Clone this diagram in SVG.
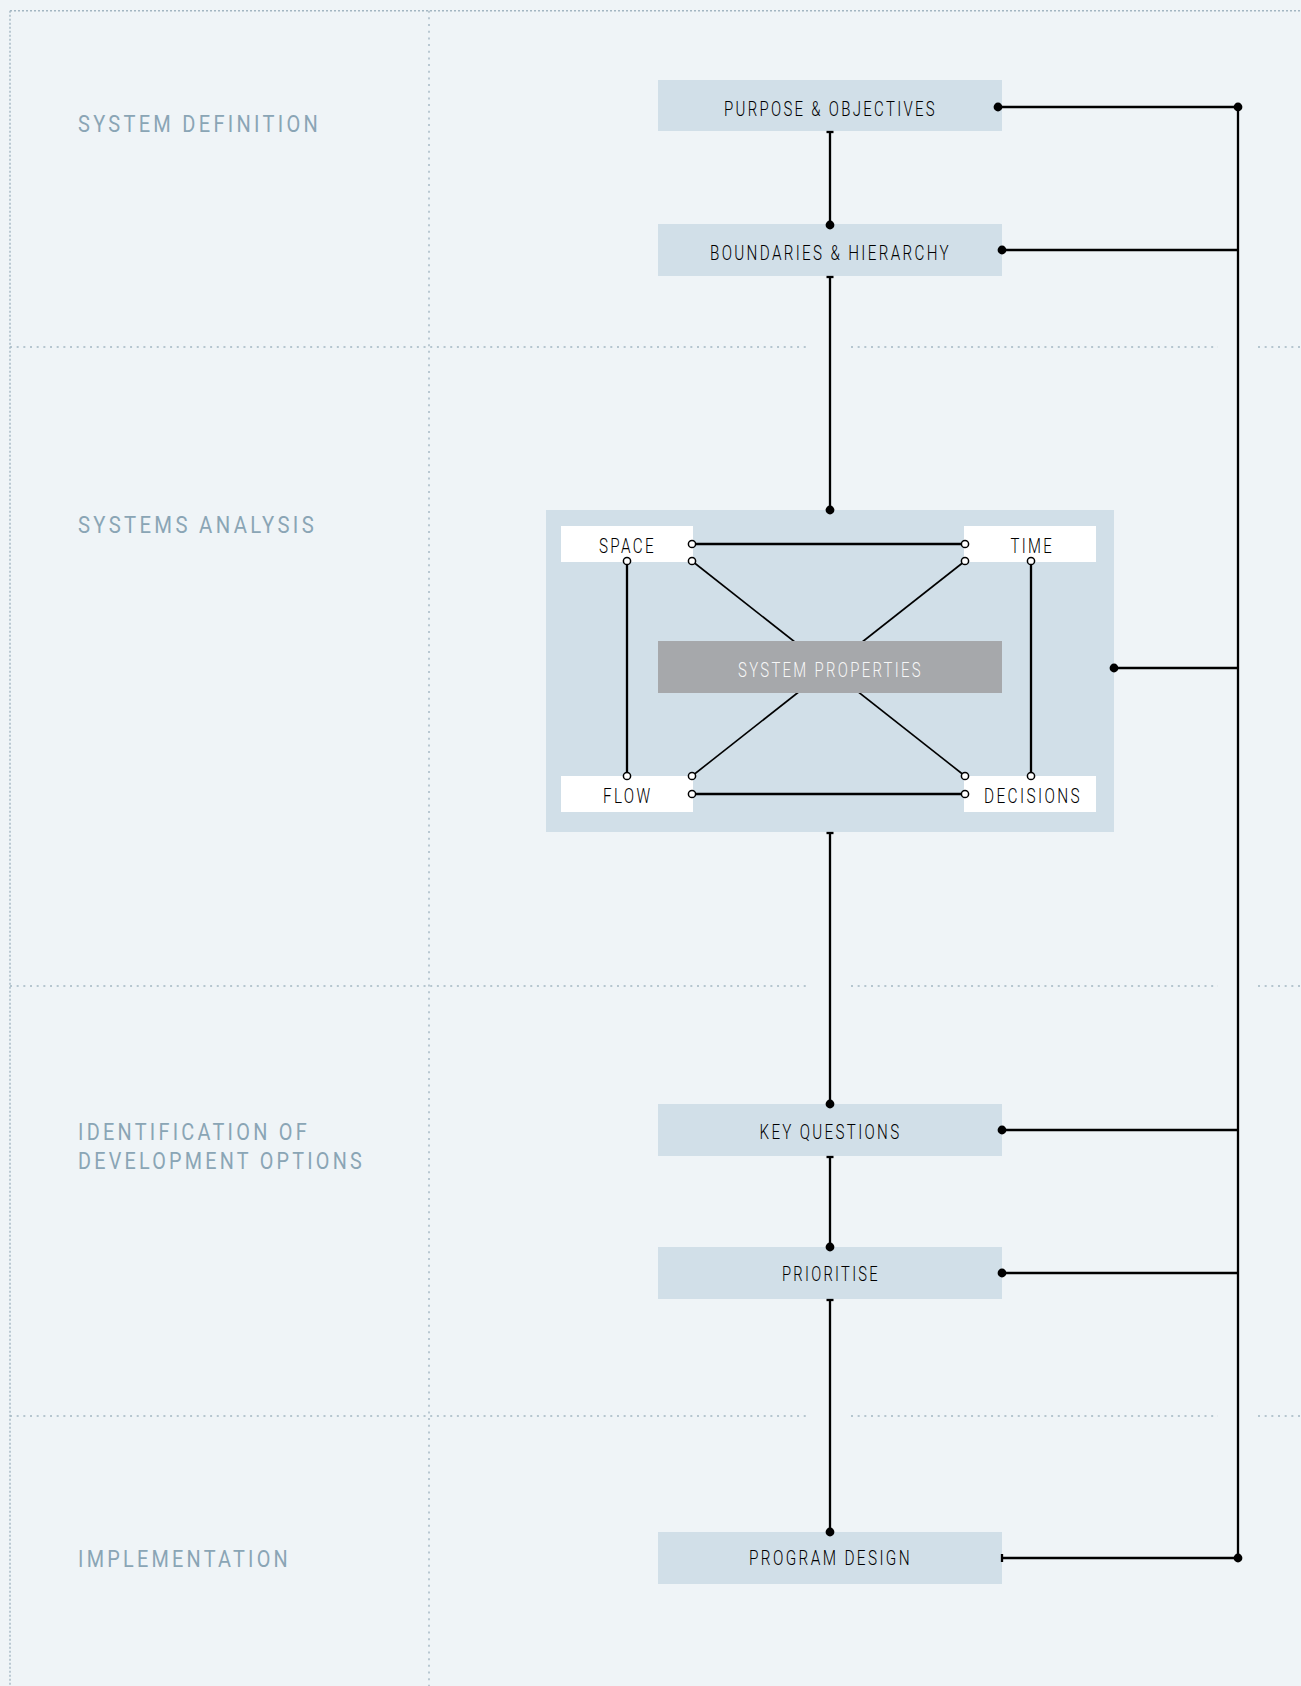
<svg xmlns="http://www.w3.org/2000/svg" width="1301" height="1686" viewBox="0 0 1301 1686">
<style>
.grid{stroke:#a3b6c2;stroke-width:1.4;fill:none;stroke-dasharray:2 4.67}
.gridd{stroke:#a3b6c2;stroke-width:1.4;fill:none;stroke-dasharray:2 2}
.sec{font-family:Roboto,"Liberation Sans",sans-serif;font-weight:400;font-size:24.5px;letter-spacing:4px;fill:#8aa5b5}
.box{fill:#d1dfe8}
.wbox{fill:#ffffff}
.gbox{fill:#a6a8ab}
.lbl{font-family:Roboto,"Liberation Sans",sans-serif;font-weight:300;font-size:19.5px;letter-spacing:3px;fill:#000}
.lblw{font-family:Roboto,"Liberation Sans",sans-serif;font-weight:300;font-size:19.5px;letter-spacing:3px;fill:#f7f7f7}
.ln{stroke:#000;stroke-width:2.3;fill:none}
.lnt{stroke:#000;stroke-width:1.6;fill:none}
.dot{fill:#000}
.oc{fill:#fff;stroke:#000;stroke-width:1.5}
</style>
<rect width="1301" height="1686" fill="#eff4f7"/>
<g id="grid">
<line class="gridd" x1="10" y1="10.7" x2="1301" y2="10.7"/>
<line class="gridd" x1="10" y1="10.7" x2="10" y2="1686"/>
<line class="grid" x1="429" y1="10.7" x2="429" y2="1686"/>
<path class="grid" d="M10 347H807M851 347H1218M1258 347H1301"/>
<path class="grid" d="M10 986H807M851 986H1218M1258 986H1301"/>
<path class="grid" d="M10 1416H807M851 1416H1218M1258 1416H1301"/>
</g>
<g id="sections">
<text class="sec" x="78" y="131.7" textLength="243" lengthAdjust="spacingAndGlyphs">SYSTEM DEFINITION</text>
<text class="sec" x="78" y="533.3" textLength="239" lengthAdjust="spacingAndGlyphs">SYSTEMS ANALYSIS</text>
<text class="sec" x="78" y="1140" textLength="232" lengthAdjust="spacingAndGlyphs">IDENTIFICATION OF</text>
<text class="sec" x="78" y="1169" textLength="287" lengthAdjust="spacingAndGlyphs">DEVELOPMENT OPTIONS</text>
<text class="sec" x="78" y="1566.7" textLength="213" lengthAdjust="spacingAndGlyphs">IMPLEMENTATION</text>
</g>
<g id="node-purpose">
<rect class="box" x="658" y="80" width="344" height="51"/>
<text class="lbl" x="724" y="115.5" textLength="213" lengthAdjust="spacingAndGlyphs">PURPOSE &amp; OBJECTIVES</text>
</g>
<g id="node-boundaries">
<rect class="box" x="658" y="224" width="344" height="52"/>
<text class="lbl" x="710" y="259.5" textLength="241" lengthAdjust="spacingAndGlyphs">BOUNDARIES &amp; HIERARCHY</text>
</g>
<g id="node-analysis">
<rect class="box" x="546" y="510" width="568" height="322"/>
</g>
<g id="node-space">
<rect class="wbox" x="561" y="526" width="132" height="36"/>
<text class="lbl" x="599" y="552.5" textLength="57" lengthAdjust="spacingAndGlyphs">SPACE</text>
</g>
<g id="node-time">
<rect class="wbox" x="964" y="526" width="132" height="36"/>
<text class="lbl" x="1010.5" y="552.5" textLength="43.5" lengthAdjust="spacingAndGlyphs">TIME</text>
</g>
<g id="node-flow">
<rect class="wbox" x="561" y="776" width="132" height="36"/>
<text class="lbl" x="603" y="802.7" textLength="49.5" lengthAdjust="spacingAndGlyphs">FLOW</text>
</g>
<g id="node-decisions">
<rect class="wbox" x="964" y="776" width="132" height="36"/>
<text class="lbl" x="984" y="802.7" textLength="98" lengthAdjust="spacingAndGlyphs">DECISIONS</text>
</g>
<g id="node-key">
<rect class="box" x="658" y="1104" width="344" height="52"/>
<text class="lbl" x="759.5" y="1138.5" textLength="142" lengthAdjust="spacingAndGlyphs">KEY QUESTIONS</text>
</g>
<g id="node-prioritise">
<rect class="box" x="658" y="1247" width="344" height="52"/>
<text class="lbl" x="782" y="1281" textLength="98" lengthAdjust="spacingAndGlyphs">PRIORITISE</text>
</g>
<g id="node-program">
<rect class="box" x="658" y="1532" width="344" height="52"/>
<text class="lbl" x="749" y="1565" textLength="163" lengthAdjust="spacingAndGlyphs">PROGRAM DESIGN</text>
</g>
<g id="connectors">
<line class="lnt" x1="692" y1="561" x2="965" y2="776"/>
<line class="lnt" x1="965" y1="561" x2="692" y2="776"/>
<line class="ln" x1="692" y1="544" x2="965" y2="544"/>
<line class="ln" x1="692" y1="794" x2="965" y2="794"/>
<line class="ln" x1="627" y1="561" x2="627" y2="776"/>
<line class="ln" x1="1031" y1="561" x2="1031" y2="776"/>
<line class="ln" x1="830" y1="131" x2="830" y2="225"/>
<line class="ln" x1="826.5" y1="132" x2="833.5" y2="132"/>
<circle class="dot" cx="830" cy="225" r="4.4"/>
<line class="ln" x1="830" y1="276" x2="830" y2="510"/>
<line class="ln" x1="826.5" y1="277" x2="833.5" y2="277"/>
<circle class="dot" cx="830" cy="510" r="4.4"/>
<line class="ln" x1="830" y1="832" x2="830" y2="1104"/>
<line class="ln" x1="826.5" y1="833" x2="833.5" y2="833"/>
<circle class="dot" cx="830" cy="1104" r="4.4"/>
<line class="ln" x1="830" y1="1156" x2="830" y2="1247"/>
<line class="ln" x1="826.5" y1="1157" x2="833.5" y2="1157"/>
<circle class="dot" cx="830" cy="1247" r="4.4"/>
<line class="ln" x1="830" y1="1299" x2="830" y2="1532"/>
<line class="ln" x1="826.5" y1="1300" x2="833.5" y2="1300"/>
<circle class="dot" cx="830" cy="1532" r="4.4"/>
<line class="ln" x1="1238" y1="107" x2="1238" y2="1558"/>
<line class="ln" x1="998" y1="107" x2="1238" y2="107"/>
<circle class="dot" cx="998" cy="107" r="4.4"/>
<circle class="dot" cx="1238" cy="107" r="4.4"/>
<line class="ln" x1="1002" y1="250" x2="1238" y2="250"/>
<circle class="dot" cx="1002" cy="250" r="4.4"/>
<line class="ln" x1="1114" y1="668" x2="1238" y2="668"/>
<circle class="dot" cx="1114" cy="668" r="4.4"/>
<line class="ln" x1="1002" y1="1130" x2="1238" y2="1130"/>
<circle class="dot" cx="1002" cy="1130" r="4.4"/>
<line class="ln" x1="1002" y1="1273" x2="1238" y2="1273"/>
<circle class="dot" cx="1002" cy="1273" r="4.4"/>
<line class="ln" x1="1002" y1="1558" x2="1238" y2="1558"/>
<line class="ln" x1="1002" y1="1554" x2="1002" y2="1562"/>
<circle class="dot" cx="1238" cy="1558" r="4.4"/>
<circle class="oc" cx="692" cy="544" r="3.6"/>
<circle class="oc" cx="965" cy="544" r="3.6"/>
<circle class="oc" cx="692" cy="561" r="3.6"/>
<circle class="oc" cx="965" cy="561" r="3.6"/>
<circle class="oc" cx="627" cy="561" r="3.6"/>
<circle class="oc" cx="1031" cy="561" r="3.6"/>
<circle class="oc" cx="627" cy="776" r="3.6"/>
<circle class="oc" cx="1031" cy="776" r="3.6"/>
<circle class="oc" cx="692" cy="776" r="3.6"/>
<circle class="oc" cx="965" cy="776" r="3.6"/>
<circle class="oc" cx="692" cy="794" r="3.6"/>
<circle class="oc" cx="965" cy="794" r="3.6"/>
</g>
<g id="node-properties">
<rect class="gbox" x="658" y="641" width="344" height="52"/>
<text class="lblw" x="738" y="676.7" textLength="185" lengthAdjust="spacingAndGlyphs">SYSTEM PROPERTIES</text>
</g>
</svg>
